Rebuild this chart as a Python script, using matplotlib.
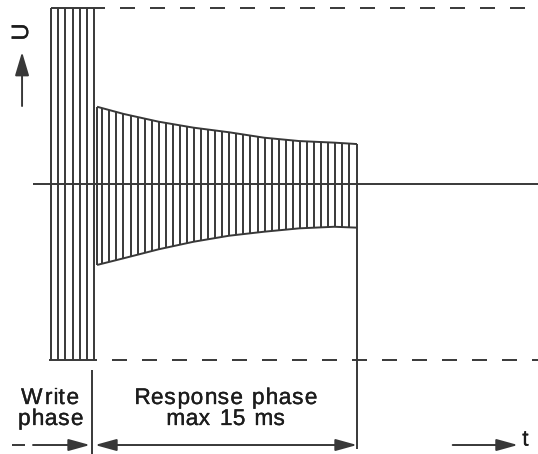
import numpy as np
import matplotlib
matplotlib.use("Agg")
import matplotlib.pyplot as plt
import matplotlib.transforms as mtransforms
import matplotlib.patheffects as pe
from matplotlib.patches import Polygon, FancyArrowPatch, ArrowStyle
from matplotlib.font_manager import FontProperties, findfont
from matplotlib.ft2font import FT2Font, LoadFlags

plt.rcParams['lines.scale_dashes'] = False

# write phase: strokes at full amplitude (time in ms, amplitude normalised)
write_start = -2.586
write_end = -0.115
write_strokes = 7
write_amp = 1.0

# response phase envelope
resp_t = [0.06, 1.59, 3.6, 5.61, 7.64, 9.67, 11.68, 13.69, 15.0]
resp_top = [0.439, 0.398, 0.354, 0.320, 0.294, 0.263, 0.244, 0.235, 0.227]
resp_bot = [-0.460, -0.422, -0.371, -0.328, -0.294, -0.271, -0.252, -0.243, -0.248]
resp_pitch = 0.4055
resp_first = 0.362

write_label = ["Write", "phase"]
resp_label = ["Response phase", "max 15 ms"]

INK = '#383838'
TXT = '#1c1c1c'
LW = 1.4
DASH = (0, (10.8, 10.8))
BOLDEN = [pe.withStroke(linewidth=0.25, foreground=TXT)]

fig = plt.figure(figsize=(5.38, 4.54), dpi=100)
ax = fig.add_axes([0, 0, 1, 1])
ax.set_xlim(-96 / 17.4, 442 / 17.4)
ax.set_ylim(-270 / 176, 184 / 176)
ax.axis('off')
x_right = ax.get_xlim()[1]


def line(xs, ys, **kw):
    ax.plot(xs, ys, color=INK, lw=LW, solid_capstyle='butt', **kw)


def arrow(p0, p1, style='-|>', hl=13, hw=3.6):
    ax.add_patch(FancyArrowPatch(p0, p1, arrowstyle=ArrowStyle(style, head_length=hl, head_width=hw),
                                 mutation_scale=1, shrinkA=0, shrinkB=0, color=INK, lw=LW))


def spaced_text(x, y, lines, size, gap, line_step):
    # Arial-like letters with a little extra tracking, centred on x
    fp = FontProperties(family='Liberation Sans', size=size)
    font = FT2Font(findfont(fp))
    font.set_size(size, 72)
    for i, s in enumerate(lines):
        glyphs = [font.load_char(ord(c), flags=LoadFlags.NO_HINTING) for c in s]
        adv = [g.linearHoriAdvance / 65536 for g in glyphs]
        pos = -(sum(adv) + gap * (len(s) - 1)) / 2
        for c, g, a in zip(s, glyphs, adv):
            if c != ' ':
                tr = mtransforms.offset_copy(ax.transData, fig=fig, x=pos + g.horiBearingX / 64,
                                             y=-i * line_step, units='points')
                ax.text(x, y, c, transform=tr, fontproperties=fp, color=TXT,
                        ha='left', va='baseline', path_effects=BOLDEN)
            pos += a + gap


# zero line
line([-3.62, x_right], [0, 0])

# write phase block
ax.vlines(np.linspace(write_start, write_end, write_strokes), -write_amp, write_amp, color=INK, lw=LW)
line([write_start, 0.517], [write_amp, write_amp])
line([-2.70, 0.057], [-write_amp, -write_amp])

# amplitude limits, dashed
line([1.379, x_right], [write_amp, write_amp], linestyle=DASH)
line([0.92, x_right], [-write_amp, -write_amp], linestyle=DASH)

# response phase: strokes clipped to the decaying envelope
env = Polygon(np.column_stack([resp_t + resp_t[::-1], resp_top + resp_bot[::-1]]), closed=True,
              fill=False, edgecolor='none')
ax.add_patch(env)
strokes = ax.vlines(np.arange(resp_first, resp_t[-1] - 0.3, resp_pitch), -1, 1, color=INK, lw=LW)
strokes.set_clip_path(env)
line(resp_t, resp_top)
line(resp_t, resp_bot)
line([resp_t[0], resp_t[0]], [resp_bot[0], resp_top[0]])
line([resp_t[-1], resp_t[-1]], [resp_top[-1], -1.506])

# phase divider and time axis
line([-0.23, -0.23], [-1.057, ax.get_ylim()[0]])
y_t = -1.483
line([-4.83, -4.08], [y_t, y_t])
arrow((-3.62, y_t), (-0.345, y_t))
arrow((-0.057, y_t), (resp_t[-1], y_t), style='<|-|>')
arrow((20.5, y_t), (24.25, y_t))
ax.text(24.5, -1.455, 't', fontsize=16, family='Liberation Sans', color=TXT, ha='left', va='center',
        path_effects=BOLDEN)

# voltage axis
arrow((-4.25, 0.443), (-4.25, 0.75), hl=14.4, hw=4.3)
ax.text(-4.25, 0.864, 'U', fontsize=17, family='Liberation Sans', color=TXT, rotation=90,
        ha='center', va='center', path_effects=BOLDEN)

# phase labels
spaced_text(-2.67, -1.25, write_label, 16.3, 0.8, 15.1)
spaced_text(7.385, -1.25, resp_label, 16.3, 0.8, 15.1)

fig.savefig('out.png', dpi=100)
